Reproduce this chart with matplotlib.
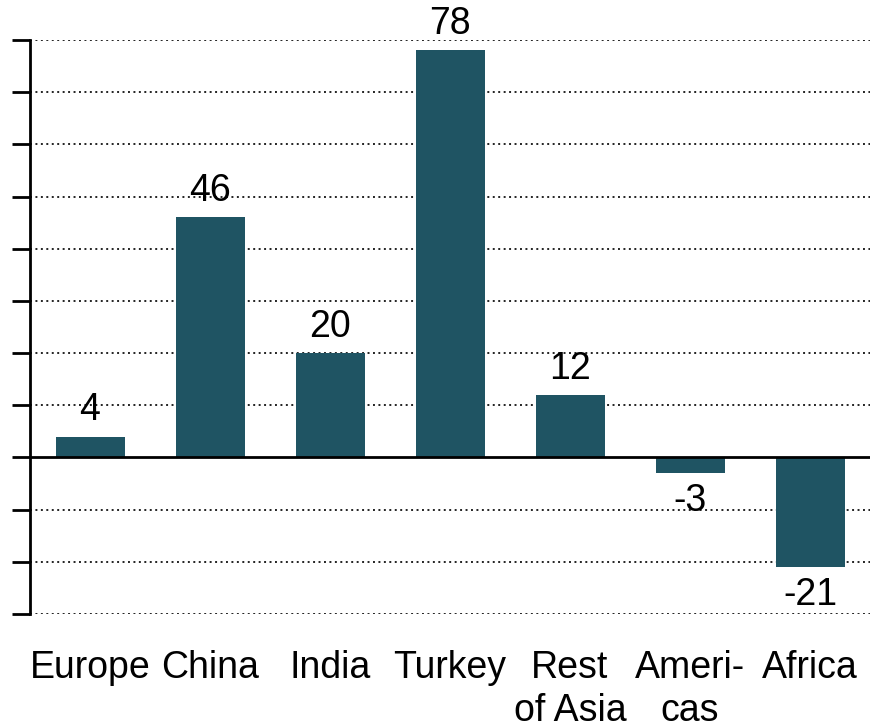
import matplotlib
matplotlib.use("Agg")
import matplotlib.pyplot as plt
import numpy as np

categories = ["Europe", "China", "India", "Turkey", "Rest\nof Asia", "Ameri-\ncas", "Africa"]
values = [4, 46, 20, 78, 12, -3, -21]
value_labels = ["4", "46", "20", "78", "12", "-3", "-21"]
yticks = list(range(-30, 81, 10))

plt.rcParams['font.family'] = ['Liberation Sans', 'DejaVu Sans']
bar_color = "#1F5463"

fig = plt.figure(figsize=(8.72, 7.24), dpi=100)
W, H = 872, 724
ax = fig.add_axes([30 / W, 1 - 614 / H, 840 / W, (614 - 40) / H])

x = np.arange(len(categories))
ax.bar(x, values, width=0.575, color=bar_color, zorder=3)

ax.set_xlim(-0.5, len(categories) - 0.5)
ax.set_ylim(-30, 80)
ax.set_yticks(yticks)
ax.set_yticklabels([])
for t in yticks:
    if t != 0:
        ax.axhline(t, color="#222222", linestyle=(0, (1, 1.8)), linewidth=1.4, zorder=1)
ax.axhline(0, color="black", linewidth=2, zorder=4)

for s in ["top", "right", "bottom"]:
    ax.spines[s].set_visible(False)
ax.spines["left"].set_linewidth(2)
ax.tick_params(axis="y", length=13, width=2, direction="out")
ax.tick_params(axis="x", length=0, pad=26, labelsize=27)
ax.set_xticks(x)
ax.set_xticklabels(categories, linespacing=1.25, va="top")

for xi, v, lab in zip(x, values, value_labels):
    if v >= 0:
        ax.annotate(lab, (xi, v), xytext=(0, 6), textcoords="offset points",
                    ha="center", va="bottom", fontsize=27, clip_on=False)
    else:
        ax.annotate(lab, (xi, v), xytext=(0, -7), textcoords="offset points",
                    ha="center", va="top", fontsize=27, clip_on=False)

fig.savefig("out.png", dpi=100)
